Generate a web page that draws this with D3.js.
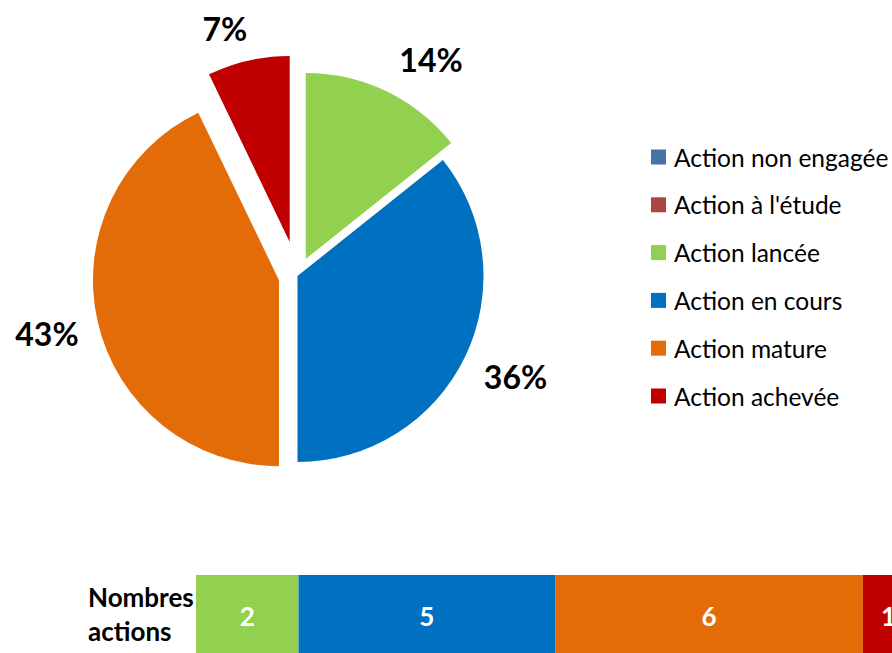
<!DOCTYPE html>
<html>
<head>
<meta charset="utf-8">
<script src="https://cdn.jsdelivr.net/npm/d3@7"></script>
<style>
  body { margin: 0; background: #fff; }
  svg { display: block; font-family: Lato, "Open Sans", sans-serif; }
</style>
</head>
<body>
<svg id="chart" width="892" height="653"></svg>
<script>
const categories = ["Action non engagée", "Action à l'étude", "Action lancée", "Action en cours", "Action mature", "Action achevée"];
const counts = [0, 0, 2, 5, 6, 1];
const colors = ["#4572A7", "#AA4643", "#92D050", "#0070C0", "#E36C09", "#C00000"];
const rowLabel = ["Nombres", "actions"];

const svg = d3.select("#chart");

// pie geometry
const cx = 297.5, cy = 276, radius = 186;
const explode = [0, 0, 19, 0, 19, 35];
// best-fit label placement: angle nudge (deg) and distance from centre
const labelShift = [0, 0, 6, -1, 0, -3.5];
const labelDist = [0, 0, 254, 240, 257, 258];

const total = d3.sum(counts);
const data = categories.map((name, i) => ({ name, value: counts[i], color: colors[i], i }));

const pie = d3.pie().sort(null).value(d => d.value);
const arc = d3.arc().innerRadius(0).outerRadius(radius);
const arcs = pie(data).filter(d => d.data.value > 0);

const g = svg.append("g").attr("transform", `translate(${cx},${cy})`);

arcs.forEach(d => {
  const mid = (d.startAngle + d.endAngle) / 2;
  const off = explode[d.data.i];
  const ox = Math.sin(mid) * off, oy = -Math.cos(mid) * off;
  g.append("path")
    .attr("d", arc(d))
    .attr("fill", d.data.color)
    .attr("transform", `translate(${ox},${oy})`);

  const la = mid + labelShift[d.data.i] * Math.PI / 180;
  const lr = labelDist[d.data.i];
  g.append("text")
    .attr("x", Math.sin(la) * lr)
    .attr("y", -Math.cos(la) * lr)
    .attr("text-anchor", "middle")
    .attr("dominant-baseline", "central")
    .attr("font-size", 32)
    .attr("font-weight", "bold")
    .attr("fill", "#000")
    .text(d3.format(".0%")(d.data.value / total));
});

// legend
const legendY = d3.scalePoint().domain(categories).range([157, 396]);
const legend = svg.append("g");
categories.forEach((c, i) => {
  const y = legendY(c);
  legend.append("rect")
    .attr("x", 651).attr("y", y - 7.5)
    .attr("width", 15).attr("height", 15)
    .attr("fill", colors[i]);
  legend.append("text")
    .attr("x", 674).attr("y", y)
    .attr("dominant-baseline", "central")
    .attr("font-size", 24.5)
    .attr("fill", "#000")
    .text(c);
});

// bottom table bar
const x = d3.scaleLinear().domain([0, total]).range([196, 196 + 51.3 * total]);
let acc = 0;
const bar = svg.append("g");
data.filter(d => d.value > 0).forEach(d => {
  const x0 = x(acc), x1 = x(acc + d.value);
  acc += d.value;
  bar.append("rect")
    .attr("x", x0).attr("y", 575)
    .attr("width", x1 - x0).attr("height", 90)
    .attr("fill", d.color);
  bar.append("text")
    .attr("x", (x0 + x1) / 2).attr("y", 616)
    .attr("text-anchor", "middle")
    .attr("dominant-baseline", "central")
    .attr("font-size", 26)
    .attr("font-weight", "bold")
    .attr("fill", "#fff")
    .text(d.value);
});

svg.append("g").selectAll("text")
  .data(rowLabel)
  .join("text")
  .attr("x", 88)
  .attr("y", (d, i) => 607 + i * 34)
  .attr("font-size", 26)
  .attr("font-weight", "bold")
  .attr("fill", "#000")
  .text(d => d);
</script>
</body>
</html>
